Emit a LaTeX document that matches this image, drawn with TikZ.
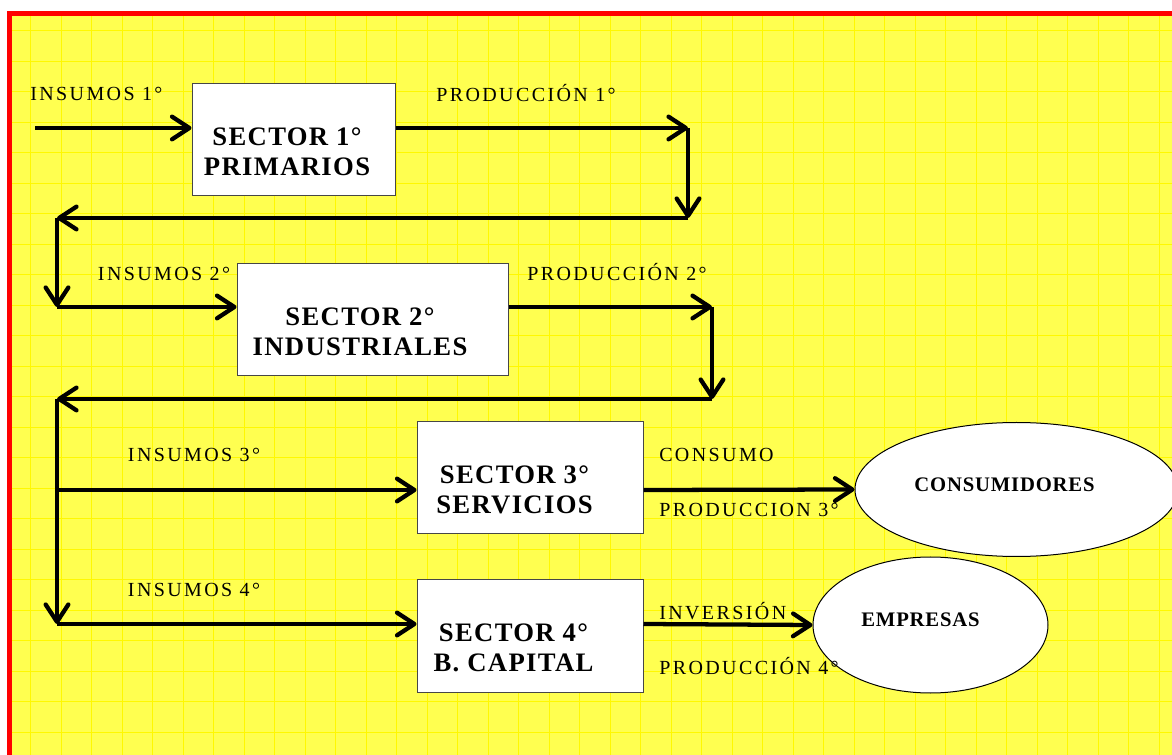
\documentclass[tikz,border=0pt]{standalone}
\usepackage{fontspec}
\setmainfont{Liberation Serif}
\newfontfamily\lblfont[LetterSpace=12]{Liberation Serif}
\newfontfamily\boxfont[LetterSpace=5]{Liberation Serif}
\newfontfamily\ovalfont[LetterSpace=4]{Liberation Serif}
\usepackage{tikz}
\usetikzlibrary{positioning, arrows.meta, calc, shapes.geometric}
\definecolor{bgyellow}{RGB}{255,255,80}
\definecolor{gridyellow}{RGB}{255,248,0}
\definecolor{boxgray}{RGB}{70,70,70}
\tikzset{
    flow/.style={line width=3.2pt, -{Straight Barb[length=13pt,width=17pt,round]}},
    sector/.style={draw=boxgray, fill=white, line width=0.75pt, inner sep=0pt, minimum height=84pt},
    sectortxt/.style={font={\boxfont\bfseries\fontsize{20}{22.5}\selectfont}, align=center, inner sep=0pt},
    lbl/.style={font={\lblfont\fontsize{15}{18}\selectfont}, anchor=base west, inner sep=0pt},
    oval/.style={ellipse, draw, fill=white, line width=0.75pt, inner sep=0pt},
    ovaltxt/.style={font={\ovalfont\bfseries\fontsize{15.5}{18}\selectfont}, inner sep=0pt}
}

\begin{document}
\begin{tikzpicture}[x=0.75pt, y=-0.75pt]
    	\useasboundingbox (0,0) rectangle (1172,755);
    	\clip (0,0) rectangle (1172,755);
    	\fill[white] (0,0) rectangle (1172,755);
    	\fill[bgyellow] (9,13) rectangle (1180,770);
    	\draw[gridyellow, line width=0.5pt, step=22.875pt] (9,13) grid (1180,770);
    	\draw[red, line width=3.75pt] (9.2,13.5) rectangle (1190,775);

    	% sectores
    	\node[sector, minimum width=152.25pt] (s1) at (293.5,140) {};
    	\node[sector, minimum width=203.25pt] (s2) at (372.5,320) {};
    	\node[sector, minimum width=169.5pt] (s3) at (530,478) {};
    	\node[sector, minimum width=169.5pt] (s4) at (530,636) {};
    	\node[sectortxt] (t1) at ($(s1.center)+(-6.5,12)$) {SECTOR 1°\\PRIMARIOS};
    	\node[sectortxt] (t2) at ($(s2.center)+(-12.5,12)$) {SECTOR 2°\\INDUSTRIALES};
    	\node[sectortxt] (t3) at ($(s3.center)+(-15.5,11.5)$) {SECTOR 3°\\SERVICIOS};
    	\node[sectortxt] (t4) at ($(s4.center)+(-16.5,11.5)$) {SECTOR 4°\\B. CAPITAL};

    	\node[oval, minimum width=242.25pt, minimum height=100.5pt] (cons) at (1016.5,489.5) {};
    	\node[oval, minimum width=176.25pt, minimum height=102pt] (emp) at (930.5,625) {};
    	\node[ovaltxt] (tc) at ($(cons.center)+(-12,-5)$) {CONSUMIDORES};
    	\node[ovaltxt] (te) at ($(emp.center)+(-10,-5.5)$) {EMPRESAS};

    	% recorrido
    	\coordinate (in1) at (35,128);
    	\coordinate (c1) at (688,128);
    	\coordinate (c2) at (688,218);
    	\coordinate (c3) at (57,218);
    	\coordinate (c4) at (57,307);
    	\coordinate (c5) at (712,307);
    	\coordinate (c6) at (712,399);
    	\coordinate (c7) at (57,399);
    	\coordinate (c8) at (57,624);
    	\coordinate (b3) at (57,490);

    	\draw[flow] (in1) -- (in1 -| s1.west);
    	\draw[flow] (in1 -| s1.east) -- (c1);
    	\draw[flow] (c1) -- (c2);
    	\draw[flow] (c2) -- (c3);
    	\draw[flow] (c3) -- (c4);
    	\draw[flow] (c4) -- (c4 -| s2.west);
    	\draw[flow] (c4 -| s2.east) -- (c5);
    	\draw[flow] (c5) -- (c6);
    	\draw[flow] (c6) -- (c7);
    	\draw[flow] (c7) -- (c8);
    	\draw[flow] (b3) -- (b3 -| s3.west);
    	\draw[flow] (c8) -- (c8 -| s4.west);
    	\draw[flow] (b3 -| s3.east) -- (cons.west);
    	\draw[flow] (c8 -| s4.east) -- (emp.west);

    	% etiquetas
    	\node[lbl] (l1) at (30,101) {INSUMOS 1°};
    	\node[lbl] (p1) at (436,101.7) {PRODUCCIÓN 1°};
    	\node[lbl] (l2) at (97.7,281) {INSUMOS 2°};
    	\node[lbl] (p2) at (527,281) {PRODUCCIÓN 2°};
    	\node[lbl] (l3) at (127.7,462) {INSUMOS 3°};
    	\node[lbl] (l4) at (127.7,596.7) {INSUMOS 4°};
    	\node[lbl] (cm) at (659,461.7) {CONSUMO};
    	\node[lbl] (p3) at (659,517) {PRODUCCION 3°};
    	\node[lbl] (iv) at (659,619) {INVERSIÓN};
    	\node[lbl] (p4) at (659,674) {PRODUCCIÓN 4°};
\end{tikzpicture}
\end{document}
